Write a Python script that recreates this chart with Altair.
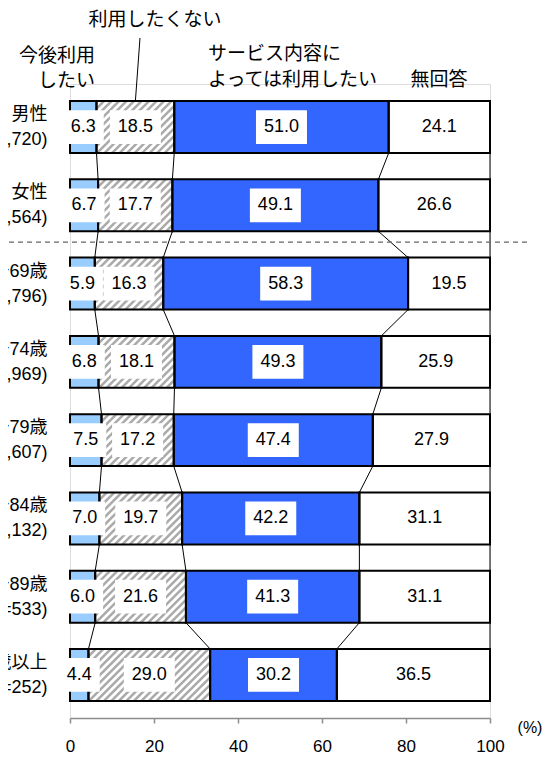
import altair as alt
import pandas as pd

# ---- data ----
group_names = ["男性", "女性", "65～69歳", "70～74歳", "75～79歳", "80～84歳", "85～89歳", "90歳以上"]
group_ns = ["(n=3,720)", "(n=4,564)", "(n=2,796)", "(n=1,969)", "(n=1,607)", "(n=1,132)", "(n=533)", "(n=252)"]
series = ["今後利用したい", "利用したくない", "サービス内容によっては利用したい", "無回答"]
v_use = [6.3, 6.7, 5.9, 6.8, 7.5, 7.0, 6.0, 4.4]
v_no = [18.5, 17.7, 16.3, 18.1, 17.2, 19.7, 21.6, 29.0]
v_dep = [51.0, 49.1, 58.3, 49.3, 47.4, 42.2, 41.3, 30.2]
v_na = [24.1, 26.6, 19.5, 25.9, 27.9, 31.1, 31.1, 36.5]
seg_colors = ["#99CCFF", "#FFFFFF", "#3366FF", "#FFFFFF"]
x_ticks = [0, 20, 40, 60, 80, 100]

FONT = "Liberation Sans, Arial, Noto Sans CJK JP"
W, H = 420, 634
HALF = 0.332          # half bar thickness in row units
BOX = 0.215           # half label-box height in row units
PX_X = W / 100.0      # px per x unit
PX_Y = H / 8.1        # px per row unit
HATCH_H = (2 * HALF * PX_Y) / PX_X   # bar height expressed in x units (45 deg)
HATCH_SP = 7.5 / PX_X

# ---- tables built from the arrays ----
recs = []
for i in range(len(group_names)):
    vals = [v_use[i], v_no[i], v_dep[i], v_na[i]]
    tot = sum(vals)
    c = 0.0
    for j, v in enumerate(vals):
        s = c / tot * 100
        c += v
        e = c / tot * 100
        recs.append(dict(row=i, seg=series[j], segi=j, value=v, start=s, end=e,
                         mid=(s + e) / 2, label=f"{v:.1f}"))
df = pd.DataFrame(recs)

conn = []
for i in range(len(group_names) - 1):
    for j in range(4):
        a = df[(df.row == i) & (df.segi == j)]["end"].iloc[0]
        b = df[(df.row == i + 1) & (df.segi == j)]["end"].iloc[0]
        conn.append(dict(row=i, xa=a, xb=b))
conn_df = pd.DataFrame(conn)

label_expr = "[" + ",".join(f"['{a}','{b}']" for a, b in zip(group_names, group_ns)) + "][datum.value]"

xscale = alt.Scale(domain=[0, 100], nice=False, zero=False)
yscale = alt.Scale(domain=[-0.55, 7.55], reverse=True, nice=False, zero=False)
xaxis = alt.Axis(values=x_ticks, grid=False, title=None, domainColor="#8c8c8c", tickColor="#8c8c8c",
                 tickSize=5, domainWidth=1.5, tickWidth=1.5, labelFontSize=17, labelPadding=15,
                 labelFlush=False, labelColor="black", labelFont=FONT, format="d")
yaxis = alt.Axis(values=list(range(8)), labelExpr=label_expr, domain=False, ticks=False, grid=False,
                 title=None, labelAlign="right", labelBaseline="middle", labelPadding=23,
                 labelOffset=-12.5,
                 labelFontSize=18, labelLineHeight=25, labelColor="black", labelFont=FONT,
                 labelOverlap=False, labelLimit=300)

base = alt.Chart(df)

# connector lines between rows
connectors = alt.Chart(conn_df).transform_calculate(
    ya=f"datum.row + {HALF}", yb=f"datum.row + 1 - {HALF}"
).mark_rule(color="black", strokeWidth=1).encode(
    x=alt.X("xa:Q", scale=xscale, axis=xaxis),
    x2="xb:Q",
    y=alt.Y("ya:Q", scale=yscale, axis=yaxis),
    y2="yb:Q",
)

bars = base.transform_calculate(
    y0=f"datum.row - {HALF}", y1=f"datum.row + {HALF}"
).mark_bar(strokeWidth=0).encode(
    x=alt.X("start:Q", scale=xscale, axis=xaxis),
    x2="end:Q",
    y=alt.Y("y0:Q", scale=yscale, axis=yaxis),
    y2="y1:Q",
    fill=alt.Fill("seg:N", scale=alt.Scale(domain=series, range=seg_colors), legend=None),
)

hatch = base.transform_filter("datum.segi == 1").transform_calculate(
    k=f"sequence(0, ceil((datum.end - datum.start + {HATCH_H}) / {HATCH_SP}) + 1)"
).transform_flatten(["k"]).transform_calculate(
    s=f"datum.start - {HATCH_H} + datum.k * {HATCH_SP}"
).transform_calculate(
    xa="max(datum.s, datum.start)", xb=f"min(datum.s + {HATCH_H}, datum.end)"
).transform_filter("datum.xa < datum.xb").transform_calculate(
    ya=f"datum.row + {HALF} - (datum.xa - datum.s) / {HATCH_H} * {2 * HALF}",
    yb=f"datum.row + {HALF} - (datum.xb - datum.s) / {HATCH_H} * {2 * HALF}",
).mark_rule(color="#aaaaaa", strokeWidth=2.5).encode(
    x=alt.X("xa:Q", scale=xscale, axis=xaxis),
    x2="xb:Q",
    y=alt.Y("ya:Q", scale=yscale, axis=yaxis),
    y2="yb:Q",
)

outline = base.transform_calculate(
    y0=f"datum.row - {HALF}", y1=f"datum.row + {HALF}"
).mark_bar(fillOpacity=0, stroke="black", strokeWidth=2).encode(
    x=alt.X("start:Q", scale=xscale, axis=xaxis),
    x2="end:Q",
    y=alt.Y("y0:Q", scale=yscale, axis=yaxis),
    y2="y1:Q",
)

boxes = base.transform_calculate(
    bx0=f"datum.mid - (length(datum.label) * 10 + 11) / 2 / {PX_X}",
    bx1=f"datum.mid + (length(datum.label) * 10 + 11) / 2 / {PX_X}",
    by0=f"datum.row - {BOX}", by1=f"datum.row + {BOX}",
).mark_bar(fill="white", strokeWidth=0).encode(
    x=alt.X("bx0:Q", scale=xscale, axis=xaxis),
    x2="bx1:Q",
    y=alt.Y("by0:Q", scale=yscale, axis=yaxis),
    y2="by1:Q",
)

texts = base.mark_text(fontSize=18, font=FONT, color="black", align="center", baseline="middle").encode(
    x=alt.X("mid:Q", scale=xscale, axis=xaxis),
    y=alt.Y("row:Q", scale=yscale, axis=yaxis),
    text="label:N",
)

# dashed separator between gender and age groups
sep = alt.Chart(pd.DataFrame({"yy": [1.47]})).mark_rule(
    color="#666666", strokeDash=[5, 4], strokeWidth=1.2
).encode(
    y=alt.Y("yy:Q", scale=yscale, axis=yaxis),
    x=alt.value(-70),
    x2=alt.value(460),
)

# leader line for 利用したくない
leader = base.transform_filter("datum.row == 0 && datum.segi == 1").transform_calculate(
    yt=f"datum.row - {HALF}"
).mark_rule(color="black", strokeWidth=1).encode(
    x=alt.X("mid:Q", scale=xscale, axis=xaxis),
    y=alt.Y("yt:Q", scale=yscale, axis=yaxis),
    x2=alt.value(70),
    y2=alt.value(-46),
)

def note(txt, x, y, align="center", size=19):
    return alt.Chart(pd.DataFrame({"t": [txt]})).mark_text(
        fontSize=size, font=FONT, color="black", align=align, baseline="middle"
    ).encode(x=alt.value(x), y=alt.value(y), text="t:N")

notes = [
    note("利用したくない", 85, -64),
    note("今後利用", 25, -28, align="right"),
    note("したい", 25, -3, align="right"),
    note("サービス内容に", 138, -30, align="left"),
    note("よっては利用したい", 138, -4, align="left"),
    note("無回答", 369, -4),
    note("(%)", 460, 644, size=16),
]

chart = alt.layer(connectors, sep, bars, hatch, outline, boxes, texts, leader, *notes).properties(
    width=W, height=H,
    autosize=alt.AutoSizeParams(type="none"),
    padding={"left": 62, "top": 76, "right": 55, "bottom": 40},
).configure_view(stroke=None).configure(background="white")

chart.save("out.html", embed_options={"renderer": "svg", "actions": False})
